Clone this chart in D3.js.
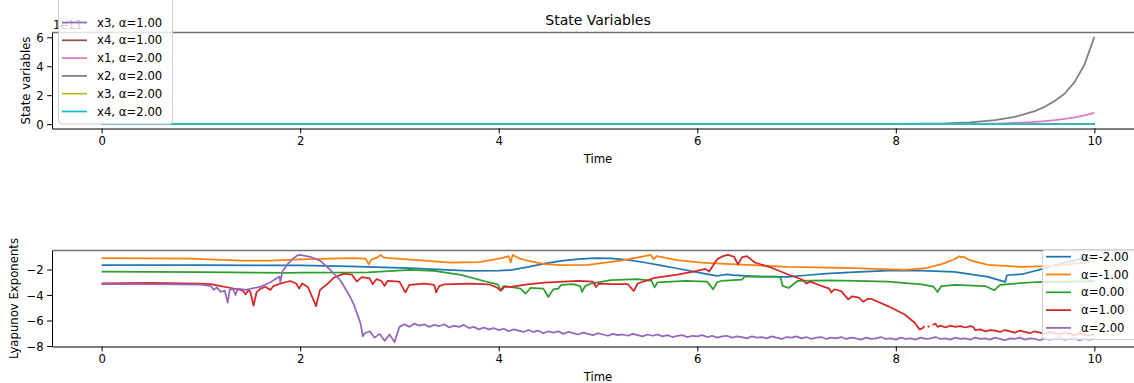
<!DOCTYPE html>
<html>
<head>
<meta charset="utf-8">
<script src="https://cdn.jsdelivr.net/npm/d3@7"></script>
<style>
body { margin: 0; background: #fff; }
text { font-family: "DejaVu Sans", sans-serif; }
</style>
</head>
<body>
<div id="chartDiv"></div>
<script>
// state variables (units of 1e11) and lyapunov exponents vs time

var alphas = [-2, -1, 0, 1, 2];
var stateNames = ["x1", "x2", "x3", "x4"];
var timeTicks = [0, 2, 4, 6, 8, 10];
var stateTicks = [0, 2, 4, 6];
var lyapTicks = [-8, -6, -4, -2];
var stateOffsetLabel = "1e11";

var stateTime = [0, 1, 2, 3, 4, 5, 6, 7, 8, 8.5, 8.75, 9, 9.2, 9.4, 9.5, 9.6, 9.7, 9.8, 9.9, 10];
var stateFlat = [0, 0, 0, 0, 0, 0, 0, 0, 0, 0, 0, 0, 0, 0, 0, 0, 0, 0, 0, 0];
var stateX1a2 = [0, 0, 0, 0, 0, 0, 0, 0, 0, 0.01, 0.02, 0.04, 0.08, 0.15, 0.2, 0.27, 0.36, 0.47, 0.6, 0.78];
var stateX2a2 = [0, 0, 0, 0, 0, 0, 0, 0, 0.01, 0.05, 0.12, 0.28, 0.5, 0.9, 1.2, 1.6, 2.1, 2.9, 4.1, 6.03];

// [time, exponent]
var lyapAm2 = [[0,-1.66],[1,-1.66],[2,-1.68],[2.5,-1.75],[3.1,-1.9],[3.7,-2.1],[4.0,-2.08],[4.12,-2.05],[4.3,-1.8],
  [4.46,-1.53],[4.63,-1.32],[4.8,-1.19],[4.97,-1.11],[5.13,-1.13],[5.3,-1.25],[5.47,-1.45],[5.63,-1.68],[5.8,-1.92],
  [6.07,-2.32],[6.2,-2.5],[6.24,-2.45],[6.3,-2.38],[6.36,-2.44],[6.5,-2.5],[6.64,-2.55],[6.91,-2.58],[7.1,-2.45],
  [7.3,-2.32],[7.58,-2.2],[7.92,-2.08],[8.26,-2.08],[8.59,-2.18],[8.93,-2.58],[9.1,-2.97],[9.12,-2.45],[9.27,-2.37],
  [9.47,-1.97],[9.7,-1.45],[9.9,-1.11],[10,-1.0]];
var lyapAm1 = [[0,-1.11],[0.9,-1.15],[1.4,-1.3],[1.7,-1.3],[2.0,-1.2],[2.52,-1.11],[2.66,-1.15],[2.69,-1.6],[2.72,-1.2],
  [2.78,-1.05],[2.81,-0.85],[2.84,-1.05],[2.9,-1.1],[3.18,-1.27],[3.52,-1.45],[3.8,-1.42],[4.03,-1.1],[4.1,-0.95],
  [4.12,-1.45],[4.14,-0.85],[4.2,-1.1],[4.29,-1.31],[4.46,-1.58],[4.63,-1.66],[4.9,-1.64],[5.23,-1.31],[5.47,-0.95],
  [5.53,-0.85],[5.56,-1.19],[5.59,-0.95],[5.8,-1.27],[6.04,-1.45],[6.28,-1.55],[6.91,-1.79],[7.58,-1.9],[8.09,-2.03],
  [8.3,-1.9],[8.46,-1.58],[8.59,-1.19],[8.64,-0.95],[8.66,-1.05],[8.68,-1.0],[8.76,-1.31],[8.93,-1.63],[9.26,-1.79],
  [9.6,-1.71],[10,-1.37]];
var lyapA0 = [[0,-2.16],[1,-2.2],[1.9,-2.26],[2.0,-2.24],[2.68,-2.22],[3.11,-2.03],[3.35,-2.1],[3.62,-2.42],[3.85,-2.9],
  [3.99,-3.16],[4.02,-3.6],[4.05,-3.3],[4.12,-3.37],[4.22,-3.5],[4.27,-3.9],[4.32,-3.45],[4.45,-3.5],[4.5,-4.16],
  [4.55,-3.55],[4.6,-3.5],[4.63,-3.2],[4.75,-3.15],[4.82,-3.3],[4.84,-3.76],[4.87,-3.3],[4.93,-3.1],[5.13,-2.84],
  [5.4,-2.76],[5.54,-2.9],[5.57,-3.4],[5.6,-3.0],[5.88,-2.9],[6.1,-2.95],[6.16,-3.56],[6.2,-3.0],[6.24,-2.9],
  [6.45,-2.8],[6.48,-2.55],[6.8,-2.55],[6.84,-2.65],[6.86,-3.29],[6.92,-3.45],[7.01,-2.9],[7.3,-2.85],[7.6,-2.9],
  [7.92,-2.95],[8.26,-3.16],[8.38,-3.35],[8.42,-3.76],[8.46,-3.3],[8.6,-3.2],[8.9,-3.3],[8.99,-3.63],[9.05,-3.2],
  [9.2,-3.1],[9.43,-2.98],[10,-2.92]];
var lyapA1 = [[0,-3.08],[0.5,-3.05],[1.0,-3.1],[1.1,-3.15],[1.2,-3.3],[1.3,-3.45],[1.37,-3.55],[1.42,-3.65],[1.45,-3.95],
  [1.48,-3.6],[1.5,-3.8],[1.53,-4.84],[1.56,-3.8],[1.6,-3.5],[1.65,-3.35],[1.7,-3.6],[1.73,-3.3],[1.8,-3.1],[1.85,-3.0],
  [1.9,-2.9],[1.96,-3.1],[1.99,-3.5],[2.02,-3.1],[2.08,-3.4],[2.16,-4.87],[2.2,-3.6],[2.27,-3.16],[2.34,-2.63],
  [2.44,-2.32],[2.52,-2.4],[2.57,-2.95],[2.62,-2.6],[2.7,-2.7],[2.73,-3.16],[2.77,-2.75],[2.82,-2.9],[2.85,-3.29],
  [2.88,-2.9],[3.0,-2.95],[3.06,-3.8],[3.1,-3.2],[3.25,-3.1],[3.35,-3.2],[3.37,-3.8],[3.4,-3.3],[3.45,-3.16],
  [3.7,-3.1],[3.9,-3.16],[3.98,-3.4],[4.02,-3.68],[4.06,-3.35],[4.12,-3.37],[4.29,-3.16],[4.46,-3.03],[4.8,-2.9],
  [4.95,-2.95],[4.98,-3.37],[5.01,-3.1],[5.13,-3.14],[5.3,-3.15],[5.36,-3.69],[5.4,-3.1],[5.57,-2.65],[5.8,-2.4],
  [6.0,-2.1],[6.08,-1.95],[6.12,-2.15],[6.2,-1.19],[6.26,-0.95],[6.31,-0.85],[6.37,-1.0],[6.41,-1.6],[6.45,-1.05],
  [6.5,-0.95],[6.58,-1.45],[6.74,-1.84],[6.91,-2.37],[7.06,-2.8],[7.1,-3.1],[7.14,-2.95],[7.25,-3.29],[7.33,-3.5],
  [7.35,-3.8],[7.38,-3.55],[7.45,-3.7],[7.52,-4.34],[7.56,-4.1],[7.63,-4.2],[7.67,-4.53],[7.72,-4.3],[7.75,-4.3],
  [7.92,-4.87],[8.09,-5.53],[8.19,-6.18],[8.24,-6.7],[8.27,-6.6],[8.29,-6.45],[8.30,null],[8.32,-6.45],[8.34,-6.5],
  [8.35,null],[8.37,-6.35],[8.40,-6.25],[8.42,-6.5],[8.45,-6.4],[8.50,-6.55],[8.55,-6.4],[8.60,-6.5],[8.65,-6.45],
  [8.70,-6.55],[8.75,-6.45],[8.78,-6.5],[8.80,-6.75],[8.85,-6.7],[8.90,-6.85],[8.95,-6.75],[9.00,-6.8],[9.05,-6.9],
  [9.10,-6.75],[9.15,-6.85],[9.20,-6.95],[9.25,-6.8],[9.30,-6.9],[9.35,-7.0],[9.40,-6.85],[9.45,-6.95],[9.50,-7.05],
  [9.55,-6.9],[9.60,-7.0],[9.65,-7.1],[9.70,-6.95],[9.75,-7.05],[9.80,-7.15],[9.85,-7.0],[9.90,-7.1],[9.95,-7.2],
  [10.0,-7.05]];
var lyapA2 = [[0,-3.15],[0.5,-3.15],[1.0,-3.18],[1.1,-3.3],[1.13,-3.6],[1.16,-3.4],[1.2,-3.75],[1.24,-3.65],[1.27,-4.6],
  [1.29,-3.6],[1.32,-3.5],[1.35,-4.0],[1.37,-3.5],[1.45,-3.6],[1.6,-3.35],[1.7,-3.0],[1.79,-2.55],[1.8,-3.0],
  [1.82,-2.15],[1.87,-1.6],[1.92,-1.2],[1.97,-0.9],[2.0,-0.85],[2.1,-1.0],[2.2,-1.3],[2.3,-2.0],[2.41,-2.9],
  [2.5,-4.1],[2.54,-4.74],[2.58,-5.6],[2.61,-6.3],[2.63,-7.25],
  [2.65,-7.0],[2.70,-6.85],[2.75,-7.35],[2.80,-7.05],[2.85,-7.6],[2.90,-7.1],[2.95,-7.7],[3.00,-6.5],[3.05,-6.3],
  [3.10,-6.5],[3.15,-6.25],[3.20,-6.4],[3.25,-6.3],[3.30,-6.5],[3.35,-6.35],[3.40,-6.45],[3.45,-6.3],[3.50,-6.55],
  [3.55,-6.4],[3.60,-6.5],[3.65,-6.35],[3.70,-6.6],[3.75,-6.5],[3.80,-6.7],[3.85,-6.55],[3.90,-6.7],[3.95,-6.6],
  [4.00,-6.75],[4.05,-6.65],[4.10,-6.85],[4.15,-6.7],[4.20,-6.8],[4.25,-6.9],[4.30,-6.75],[4.35,-6.9],[4.40,-6.8],
  [4.45,-7.0],[4.50,-6.85],[4.55,-6.95],[4.60,-6.85],[4.65,-7.05],[4.70,-6.9],[4.75,-7.0],[4.80,-7.1],[4.85,-6.95],
  [4.90,-7.05],[4.95,-7.15],[5.00,-7.0],[5.05,-7.1],[5.10,-7.2],[5.15,-7.05],[5.20,-7.15],[5.25,-7.1],[5.30,-7.2],
  [5.35,-7.05],[5.40,-7.15],[5.45,-7.25],[5.50,-7.1],[5.55,-7.2],[5.60,-7.1],[5.65,-7.25],[5.70,-7.15],[5.75,-7.3],
  [5.80,-7.2],[5.85,-7.15],[5.90,-7.3],[5.95,-7.2],[6.00,-7.25],[6.05,-7.15],[6.10,-7.3],[6.15,-7.2],[6.20,-7.35],
  [6.25,-7.25],[6.30,-7.2],[6.35,-7.35],[6.40,-7.25],[6.45,-7.3],[6.50,-7.4],[6.55,-7.25],[6.60,-7.35],[6.65,-7.3],
  [6.70,-7.4],[6.75,-7.25],[6.80,-7.35],[6.85,-7.45],[6.90,-7.3],[6.95,-7.35],[7.00,-7.25],[7.05,-7.4],[7.10,-7.3],
  [7.15,-7.45],[7.20,-7.35],[7.25,-7.3],[7.30,-7.45],[7.35,-7.35],[7.40,-7.4],[7.45,-7.3],[7.50,-7.45],[7.55,-7.35],
  [7.60,-7.4],[7.65,-7.5],[7.70,-7.35],[7.75,-7.45],[7.80,-7.4],[7.85,-7.3],[7.90,-7.45],[7.95,-7.4],[8.00,-7.5],
  [8.05,-7.35],[8.10,-7.45],[8.15,-7.4],[8.20,-7.5],[8.25,-7.35],[8.30,-7.45],[8.35,-7.4],[8.40,-7.3],[8.45,-7.45],
  [8.50,-7.4],[8.55,-7.5],[8.60,-7.35],[8.65,-7.45],[8.70,-7.4],[8.75,-7.5],[8.80,-7.35],[8.85,-7.45],[8.90,-7.4],
  [8.95,-7.5],[9.00,-7.35],[9.05,-7.45],[9.10,-7.55],[9.15,-7.4],[9.20,-7.45],[9.25,-7.35],[9.30,-7.5],[9.35,-7.4],
  [9.40,-7.45],[9.45,-7.55],[9.50,-7.4],[9.55,-7.5],[9.60,-7.45],[9.65,-7.35],[9.70,-7.5],[9.75,-7.45],[9.80,-7.4],
  [9.85,-7.55],[9.90,-7.45],[9.95,-7.5],[10.00,-7.45]];

var width = 1134;
var height = 383;
var fontSize = 11.7;
var lineWidth = 1.75;
var colors = d3.schemeCategory10;

var topBox = { left: 52, right: 1144, top: 32.5, bottom: 128.5 };
var botBox = { left: 52, right: 1144, top: 250.5, bottom: 346.5 };

var chart;

init();

function init() {
	chart = d3.select("#chartDiv").append("svg")
		.attr("width", width)
		.attr("height", height);

	// top panel series: for each alpha x1..x4
	var stateSeries = [];
	alphas.forEach(function(a) {
		stateNames.forEach(function(n, j) {
			var vals = stateFlat;
			if (a == 2 && j == 0) vals = stateX1a2;
			if (a == 2 && j == 1) vals = stateX2a2;
			stateSeries.push({
				label: n + ", \u03b1=" + a.toFixed(2),
				points: stateTime.map(function(t, i) { return [t, vals[i]]; })
			});
		});
	});

	var lyapSeries = [lyapAm2, lyapAm1, lyapA0, lyapA1, lyapA2].map(function(p, i) {
		return { label: "\u03b1=" + alphas[i].toFixed(2), points: p };
	});

	drawPanel(topBox, stateSeries, stateTicks, "State variables", 26);
	drawPanel(botBox, lyapSeries, lyapTicks, "Lyapunov Exponents", 14);

	// title and offset text
	chart.append("text")
		.attr("x", (topBox.left + topBox.right) / 2)
		.attr("y", 25)
		.attr("text-anchor", "middle")
		.style("font-size", "14px")
		.text("State Variables");

	chart.append("text")
		.attr("x", 53)
		.attr("y", 29)
		.style("font-size", fontSize + "px")
		.text(stateOffsetLabel);

	// legends (the top one is taller than the figure, only its lower rows show)
	drawLegend(stateSeries, 58, 114, 123.5, null, "bottom");
	drawLegend(lyapSeries, 1042, 100, 249, 339, "top");
}

// matplotlib style autoscale with 5% margins
function padded(ext) {
	var m = (ext[1] - ext[0]) * 0.05;
	return [ext[0] - m, ext[1] + m];
}

function drawPanel(box, series, yTicks, yLabel, yLabelX) {
	var all = [];
	series.forEach(function(s) { s.points.forEach(function(p) { if (p[1] != null) all.push(p); }); });

	var xScale = d3.scaleLinear()
		.domain(padded(d3.extent(all, function(d) { return d[0]; })))
		.range([box.left, box.right]);
	var yScale = d3.scaleLinear()
		.domain(padded(d3.extent(all, function(d) { return d[1]; })))
		.range([box.bottom, box.top]);

	var g = chart.append("g");

	var line = d3.line()
		.defined(function(d) { return d[1] != null; })
		.x(function(d) { return xScale(d[0]); })
		.y(function(d) { return yScale(d[1]); });

	g.selectAll(".series")
		.data(series)
		.enter().append("path")
			.attr("class", "series")
			.attr("fill", "none")
			.attr("stroke", function(d, i) { return colors[i % 10]; })
			.attr("stroke-width", lineWidth)
			.attr("stroke-linejoin", "round")
			.attr("d", function(d) { return line(d.points); });

	// spines
	g.append("line").attr("x1", box.left).attr("x2", box.right).attr("y1", box.top).attr("y2", box.top)
		.attr("stroke", "#000").attr("stroke-opacity", 0.55).attr("stroke-width", 1.4);
	g.append("line").attr("x1", box.right).attr("x2", box.right).attr("y1", box.top).attr("y2", box.bottom)
		.attr("stroke", "#000").attr("stroke-width", 1);

	var xAxis = d3.axisBottom(xScale)
		.tickValues(timeTicks)
		.tickFormat(d3.format("d"))
		.tickSizeInner(4.9).tickSizeOuter(0).tickPadding(3.5);
	var yAxis = d3.axisLeft(yScale)
		.tickValues(yTicks)
		.tickFormat(d3.format("d"))
		.tickSizeInner(4.9).tickSizeOuter(0).tickPadding(3.5);

	var xg = g.append("g")
		.attr("transform", "translate(0," + box.bottom + ")")
		.call(xAxis);
	var yg = g.append("g")
		.attr("transform", "translate(" + box.left + ",0)")
		.call(yAxis);

	[xg, yg].forEach(function(a) {
		a.selectAll("text").style("font-size", fontSize + "px").attr("fill", "#000")
			.style("font-family", "'DejaVu Sans', sans-serif");
		a.selectAll("line").attr("stroke", "#000");
		a.select(".domain").attr("stroke", "#000");
	});
	yg.selectAll(".tick text").attr("dy", "0.35em");

	g.append("text")
		.attr("text-anchor", "middle")
		.attr("dominant-baseline", "central")
		.attr("transform", "translate(" + (box.left + box.right) / 2 + "," + (box.bottom + 30) + ")")
		.style("font-size", fontSize + "px")
		.text("Time");

	g.append("text")
		.attr("text-anchor", "middle")
		.attr("dominant-baseline", "central")
		.attr("transform", "translate(" + yLabelX + "," + (box.top + box.bottom) / 2 + ") rotate(-90)")
		.style("font-size", fontSize + "px")
		.text(yLabel);
}

// legend box, anchored either by its bottom edge or its top edge
function drawLegend(series, left, w, edgeA, edgeB, anchor) {
	var rowH = 17.8;
	var n = series.length;
	var boxTop, boxBottom, firstRow;
	if (anchor == "bottom") {
		boxBottom = edgeA;
		boxTop = boxBottom - n * rowH - 5;
		firstRow = boxBottom - 12 - (n - 1) * rowH;
	} else {
		boxTop = edgeA;
		boxBottom = edgeB;
		firstRow = boxTop + 7.7;
	}

	var lg = chart.append("g");
	lg.append("rect")
		.attr("x", left + 0.5)
		.attr("y", boxTop + 0.5)
		.attr("width", w)
		.attr("height", boxBottom - boxTop)
		.attr("rx", 3)
		.attr("fill", "#fff")
		.attr("fill-opacity", 0.8)
		.attr("stroke", "#d0d0d0")
		.attr("stroke-width", 1);

	// rows that fall above the top of the figure are not drawn
	var shown = series.map(function(d, i) { return { d: d, i: i, y: firstRow + i * rowH }; })
		.filter(function(r) { return r.y > 12; });

	var rows = lg.selectAll(".row")
		.data(shown)
		.enter().append("g")
			.attr("class", "row")
			.attr("transform", function(r) { return "translate(" + left + "," + r.y + ")"; });

	rows.append("line")
		.attr("x1", 4).attr("x2", 29)
		.attr("stroke", function(r) { return colors[r.i % 10]; })
		.attr("stroke-width", lineWidth);

	rows.append("text")
		.attr("x", 39)
		.attr("dy", "0.35em")
		.style("font-size", fontSize + "px")
		.text(function(r) { return r.d.label; });
}
</script>
</body>
</html>
